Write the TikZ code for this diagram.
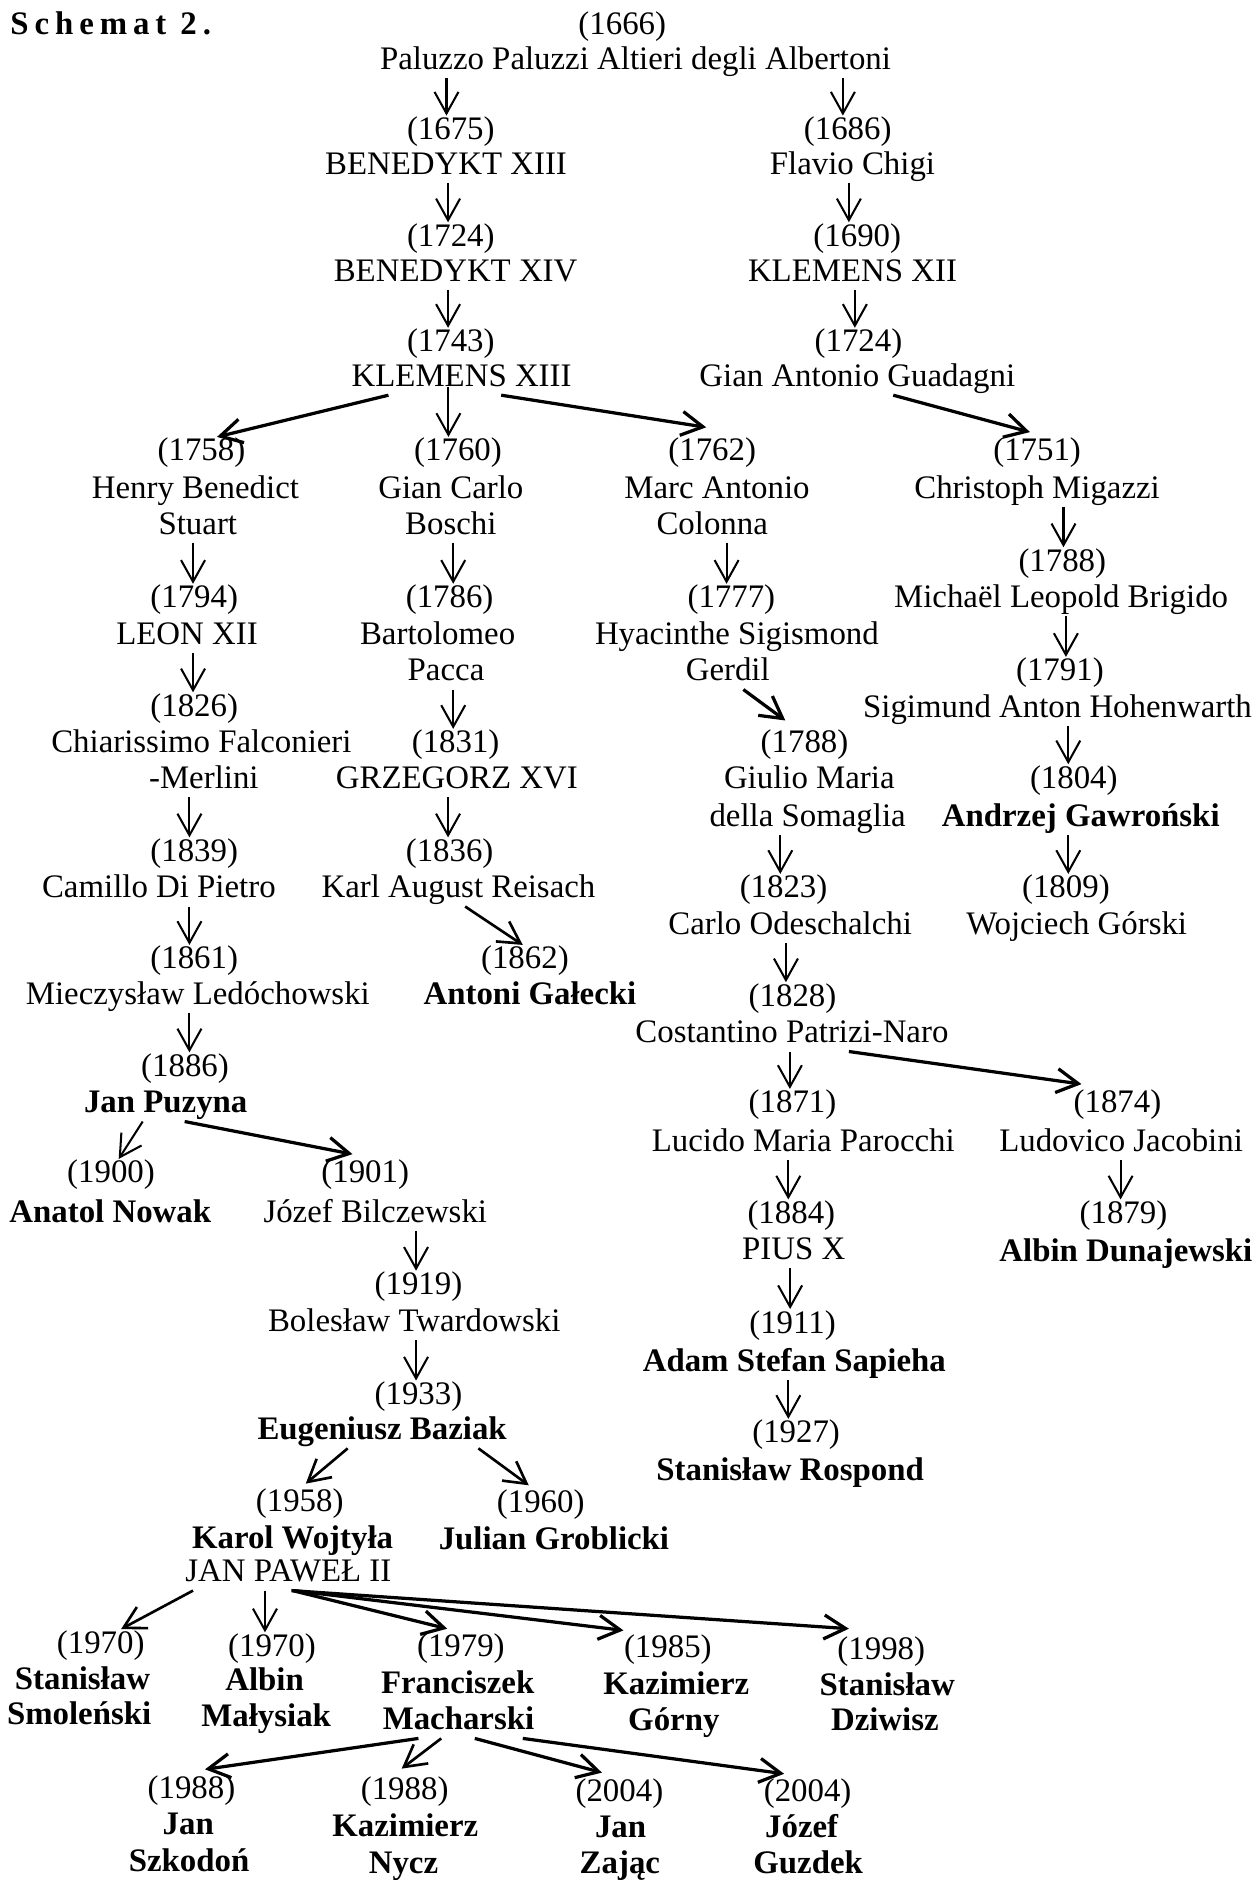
\documentclass[tikz,border=0pt]{standalone}
\usepackage{fontspec}
\setmainfont{Liberation Serif}
\newfontfamily\spacedfont{Liberation Serif}[LetterSpace=18]
\usetikzlibrary{arrows.meta,calc}
\begin{document}
\begin{tikzpicture}[x=0.5pt,y=-0.5pt,
  every node/.style={font=\fontsize{13.7}{15}\selectfont, inner sep=0pt, outer sep=1pt, text height=9pt, text depth=2.6pt},
  bd/.style={font=\fontsize{13.7}{15}\selectfont\bfseries},
  va/.style={-{Straight Barb[length=9pt,width=10pt]}, line width=0.85pt},
  ma/.style={-{Straight Barb[length=9pt,width=10pt]}, line width=1.1pt},
  da/.style={-{Straight Barb[length=9pt,width=10pt]}, line width=1.35pt}]
\useasboundingbox (0,0) rectangle (1047,1568);

% title
\node[anchor=west, font=\spacedfont\bfseries\fontsize{13.7}{15}\selectfont] (title) at (6.7,22) {Schemat 2.};

% top
\node (y1666) at (519,22) {(1666)};
\node (paluzzo) at (530,51.5) {Paluzzo Paluzzi Altieri degli Albertoni};
\node (y1675) at (376,110) {(1675)};
\node (ben13) at (372,139) {BENEDYKT XIII};
\node (y1686) at (707,110) {(1686)};
\node (chigi) at (711,139) {Flavio Chigi};
\node (y1724a) at (376,199) {(1724)};
\node (ben14) at (380,228) {BENEDYKT XIV};
\node (y1690) at (715,199) {(1690)};
\node (kl12) at (711,228) {KLEMENS XII};
\node (y1743) at (376,287) {(1743)};
\node (kl13) at (385,316) {KLEMENS XIII};
\node (y1724b) at (716,287) {(1724)};
\node (guad) at (715,316) {Gian Antonio Guadagni};

% row 1758..
\node (y1758) at (168,378) {(1758)};
\node (henry) at (163,409) {Henry Benedict};
\node (stuart) at (165,439) {Stuart};
\node (y1760) at (382,378) {(1760)};
\node (giancarlo) at (376,409) {Gian Carlo};
\node (boschi) at (376,439) {Boschi};
\node (y1762) at (594,378) {(1762)};
\node (marc) at (598,409) {Marc Antonio};
\node (colonna) at (594,439) {Colonna};
\node (y1751) at (865,378) {(1751)};
\node (migazzi) at (865,409) {Christoph Migazzi};
\node (y1788a) at (886,470) {(1788)};
\node (brigido) at (885,500.5) {Michaël Leopold Brigido};
\node (y1794) at (162,500.5) {(1794)};
\node (leon) at (156,531) {LEON XII};
\node (y1786) at (375,500.5) {(1786)};
\node (bartolomeo) at (365,531) {Bartolomeo};
\node (pacca) at (372,561.5) {Pacca};
\node (y1777) at (610,500.5) {(1777)};
\node (hyacinthe) at (614.6,531) {Hyacinthe Sigismond};
\node (gerdil) at (607,561.5) {Gerdil};
\node (y1791) at (884,561.5) {(1791)};
\node (hohen) at (882,592) {Sigimund Anton Hohenwarth};
\node (y1826) at (162,591) {(1826)};
\node (chiar) at (168,621.5) {Chiarissimo Falconieri};
\node (merlini) at (170,651) {-Merlini};
\node (y1831) at (380,621.5) {(1831)};
\node (grzeg) at (381,651) {GRZEGORZ XVI};
\node (y1788b) at (671,621.5) {(1788)};
\node (giulio) at (675,651) {Giulio Maria};
\node (somaglia) at (673.6,682.7) {della Somaglia};
\node (y1804) at (895.6,651) {(1804)};
\node[bd] (gawr) at (901.4,682.7) {Andrzej Gawroński};
\node (y1839) at (162,712) {(1839)};
\node (camillo) at (132.5,742.5) {Camillo Di Pietro};
\node (y1836) at (375,712) {(1836)};
\node (reisach) at (382.4,742.5) {Karl August Reisach};
\node (y1823) at (653.5,742.5) {(1823)};
\node (odesc) at (659,773) {Carlo Odeschalchi};
\node (y1809) at (889,742.5) {(1809)};
\node (gorski) at (898,773) {Wojciech Górski};
\node (y1861) at (162,801.7) {(1861)};
\node (ledo) at (165,831) {Mieczysław Ledóchowski};
\node (y1862) at (437.8,801.7) {(1862)};
\node[bd] (galecki) at (442,831) {Antoni Gałecki};
\node (y1828) at (661,832.8) {(1828)};
\node (patrizi) at (660.5,863.4) {Costantino Patrizi-Naro};
\node (y1886) at (154.3,891.3) {(1886)};
\node[bd] (puzyna) at (138.2,921.8) {Jan Puzyna};
\node (y1871) at (661,921.8) {(1871)};
\node (parocchi) at (670,953.8) {Lucido Maria Parocchi};
\node (y1874) at (932,921.8) {(1874)};
\node (jacobini) at (935,953.8) {Ludovico Jacobini};
\node (y1900) at (92.6,980.2) {(1900)};
\node[bd] (nowak) at (92,1013) {Anatol Nowak};
\node (y1901) at (304.6,980.2) {(1901)};
\node (bilcz) at (313,1013) {Józef Bilczewski};
\node (y1884) at (660,1014) {(1884)};
\node (pius) at (662,1044) {PIUS X};
\node (y1879) at (937,1014) {(1879)};
\node[bd] (dunaj) at (939,1045.6) {Albin Dunajewski};
\node (y1919) at (349,1073.4) {(1919)};
\node (twar) at (345.5,1104) {Bolesław Twardowski};
\node (y1911) at (661,1105.4) {(1911)};
\node[bd] (sapieha) at (662.5,1137.4) {Adam Stefan Sapieha};
\node (y1933) at (349,1165) {(1933)};
\node[bd] (baziak) at (318.7,1194.4) {Eugeniusz Baziak};
\node (y1927) at (664,1197) {(1927)};
\node[bd] (rospond) at (659,1228.7) {Stanisław Rospond};
\node (y1958) at (250,1254) {(1958)};
\node[bd] (wojtyla) at (244,1284.7) {Karol Wojtyła};
\node (jp2) at (240.5,1313) {JAN PAWEŁ II};
\node (y1960) at (451,1255.4) {(1960)};
\node[bd] (groblicki) at (462,1286) {Julian Groblicki};

% JP2 row
\node (y1970a) at (84,1372.3) {(1970)};
\node[bd] (smol1) at (68.8,1403) {Stanisław};
\node[bd] (smol2) at (66,1432) {Smoleński};
\node (y1970b) at (226.8,1375) {(1970)};
\node[bd] (alb1) at (220.7,1403.7) {Albin};
\node[bd] (alb2) at (222,1433.5) {Małysiak};
\node (y1979) at (384.4,1375) {(1979)};
\node[bd] (mach1) at (381.7,1405.7) {Franciszek};
\node[bd] (mach2) at (382.4,1436.3) {Macharski};
\node (y1985) at (557,1376.4) {(1985)};
\node[bd] (gor1) at (564,1406.5) {Kazimierz};
\node[bd] (gor2) at (562,1437) {Górny};
\node (y1998) at (735,1378) {(1998)};
\node[bd] (dz1) at (740,1407.5) {Stanisław};
\node[bd] (dz2) at (738,1437) {Dziwisz};

% Macharski row
\node (y1988a) at (159.7,1493.3) {(1988)};
\node[bd] (szk1) at (157,1524) {Jan};
\node[bd] (szk2) at (157.7,1554.5) {Szkodoń};
\node (y1988b) at (337.5,1494.7) {(1988)};
\node[bd] (nycz1) at (338,1525) {Kazimierz};
\node[bd] (nycz2) at (336.5,1556) {Nycz};
\node (y2004a) at (516.6,1496) {(2004)};
\node[bd] (zaj1) at (517.6,1526) {Jan};
\node[bd] (zaj2) at (517,1556) {Zając};
\node (y2004b) at (673.6,1496) {(2004)};
\node[bd] (guz1) at (668.6,1526) {Józef};
\node[bd] (guz2) at (674,1556) {Guzdek};

% vertical arrows
\draw[va] (paluzzo.south -| 372.4,0) -- (y1675.north -| 372.4,0);
\draw[va] (paluzzo.south -| 703,0) -- (y1686.north -| 703,0);
\draw[va] (ben13.south -| 373.7,0) -- (y1724a.north -| 373.7,0);
\draw[va] (chigi.south -| 708,0) -- (y1690.north -| 708,0);
\draw[va] (ben14.south -| 373.7,0) -- (y1743.north -| 373.7,0);
\draw[va] (kl12.south -| 713,0) -- (y1724b.north -| 713,0);
\draw[va] (kl13.base -| 374,0) -- (y1760.north -| 374,0);
\draw[va] (stuart.south -| 161,0) -- (y1794.north -| 161,0);
\draw[va] (boschi.south -| 378,0) -- (y1786.north -| 378,0);
\draw[va] (colonna.south -| 606,0) -- (y1777.north -| 606,0);
\draw[va] (migazzi.south -| 887,0) -- (y1788a.north -| 887,0);
\draw[va] (leon.south -| 161,0) -- (y1826.north -| 161,0);
\draw[va] (pacca.south -| 378,0) -- (y1831.north -| 378,0);
\draw[va] (brigido.south -| 889,0) -- (y1791.north -| 889,0);
\draw[va] (hohen.south -| 891,0) -- (y1804.north -| 891,0);
\draw[va] (merlini.south -| 158,0) -- (y1839.north -| 158,0);
\draw[va] (grzeg.south -| 373.7,0) -- (y1836.north -| 373.7,0);
\draw[va] (somaglia.south -| 650.8,0) -- (y1823.north -| 650.8,0);
\draw[va] (gawr.south -| 891,0) -- (y1809.north -| 891,0);
\draw[va] (camillo.south -| 158,0) -- (y1861.north -| 158,0);
\draw[va] (odesc.south -| 655.5,0) -- (y1828.north -| 655.5,0);
\draw[va] (ledo.south -| 158,0) -- (y1886.north -| 158,0);
\draw[va] (patrizi.south -| 658.8,0) -- (y1871.north -| 658.8,0);
\draw[va] (parocchi.south -| 657.5,0) -- (y1884.north -| 657.5,0);
\draw[va] (jacobini.south -| 934.6,0) -- (y1879.north -| 934.6,0);
\draw[va] (bilcz.south -| 347,0) -- (y1919.north -| 347,0);
\draw[va] (pius.south -| 659,0) -- (y1911.north -| 659,0);
\draw[va] (twar.south -| 347,0) -- (y1933.north -| 347,0);
\draw[va] (sapieha.south -| 657.5,0) -- (y1927.north -| 657.5,0);
\draw[va] (jp2.south -| 221,0) -- (y1970b.north -| 221,0);

% diagonal arrows
\draw[da] (kl13.south -| 324,0) -- (y1758.north -| 181,0);
\draw[da] (kl13.south -| 418,0) -- ($(y1762.north -| 589,0)+(0,-8)$);
\draw[da] (guad.south -| 745,0) -- ($(y1751.north -| 859,0)+(0,-4)$);
\draw[da] (gerdil.south -| 620,0) -- ($(y1788b.north -| 655,0)+(0,-7)$);
\draw[ma] (reisach.south -| 388,0) -- (y1862.north -| 436,0);
\draw[da] (patrizi.south -| 708,0) -- ($(y1874.north -| 902,0)+(0,-4)$);
\draw[va] (puzyna.south -| 119,0) -- (y1900.north -| 99,0);
\draw[da] (puzyna.south -| 154,0) -- ($(y1901.north -| 294,0)+(0,-4)$);
\draw[ma] (baziak.south -| 290,0) -- ($(y1958.north -| 255,0)+(0,-3)$);
\draw[ma] (baziak.south -| 399,0) -- ($(y1960.north -| 441,0)+(0,-3)$);
\draw[ma] (jp2.south -| 161,0) -- (y1970a.north -| 101,0);
\draw[da] (jp2.south -| 244,0) -- ($(y1979.north -| 373,0)+(0,-3)$);
\draw[da] (jp2.south -| 245,0) -- ($(y1985.north -| 520,0)+(0,-3)$);
\draw[da] (jp2.south -| 243,0) -- ($(y1998.north -| 708,0)+(0,-6)$);
\draw[da] (mach2.south -| 349,0) -- ($(y1988a.north -| 171,0)+(0,-4)$);
\draw[ma] (mach2.south -| 368,0) -- ($(y1988b.north -| 335,0)+(0,-6)$);
\draw[da] (mach2.south -| 396,0) -- ($(y2004a.north -| 502,0)+(0,-4)$);
\draw[da] (mach2.south -| 436,0) -- ($(y2004b.north -| 654,0)+(0,-3)$);
\end{tikzpicture}
\end{document}
